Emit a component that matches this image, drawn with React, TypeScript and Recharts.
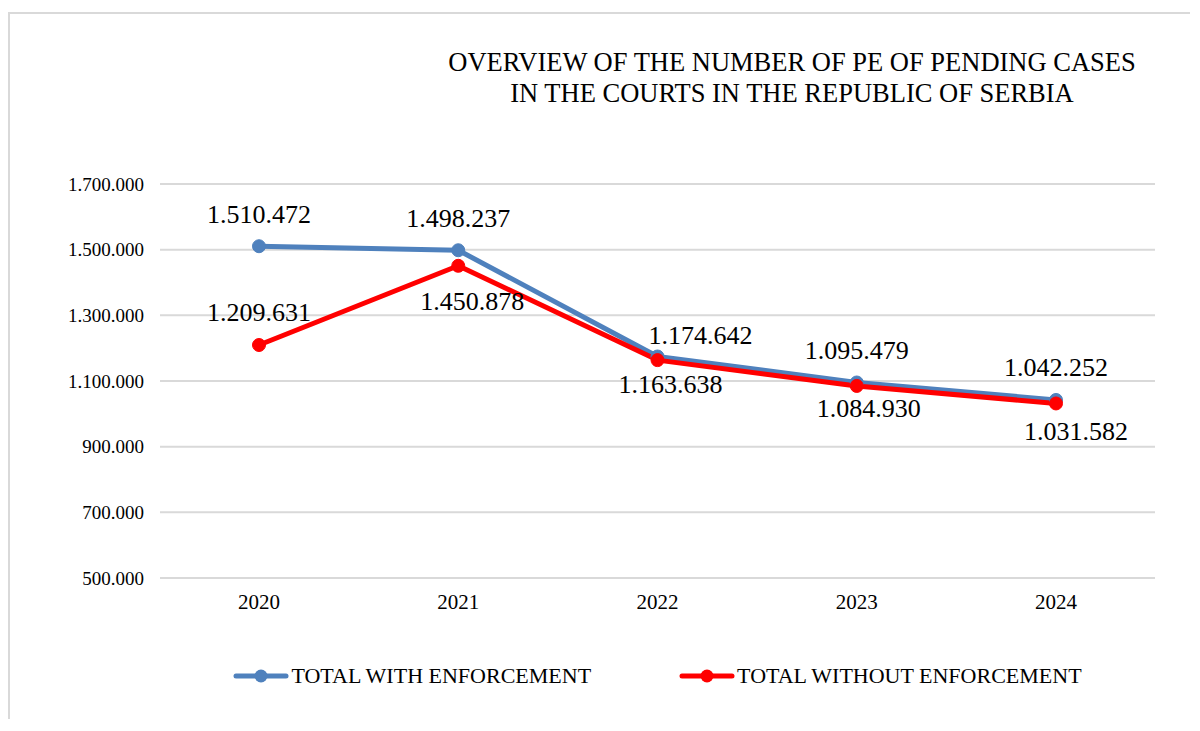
import { LineChart, Line, XAxis, YAxis, CartesianGrid, LabelList } from 'recharts';

const years = ['2020', '2021', '2022', '2023', '2024'];
const withEnforcement = [1510472, 1498237, 1174642, 1095479, 1042252];
const withoutEnforcement = [1209631, 1450878, 1163638, 1084930, 1031582];
const yTicks = [500000, 700000, 900000, 1100000, 1300000, 1500000, 1700000];
const titleLines = ['OVERVIEW OF THE NUMBER OF PE OF PENDING CASES', 'IN THE COURTS IN THE REPUBLIC OF SERBIA'];
const seriesNames = ['TOTAL WITH ENFORCEMENT', 'TOTAL WITHOUT ENFORCEMENT'];

const BLUE = '#4f81bd';
const RED = '#ff0000';
const FONT = 'Liberation Serif';

// label nudges (px) relative to each point, as placed in the original
const blueLabelNudge = [[0, -32], [0, -32], [43, -21], [0, -32], [0, -33]];
const redLabelNudge = [[0, -33], [14, 35], [13, 24], [12, 22], [20, 28]];

const data = years.map((year, i) => ({
  year,
  withEnf: withEnforcement[i],
  withoutEnf: withoutEnforcement[i],
}));

const fmt = (v: number) => String(v).replace(/\B(?=(\d{3})+(?!\d))/g, '.');

const makeLabel = (nudge: number[][]) => (props: any) => {
  const { x, y, value, index } = props;
  const [dx, dy] = nudge[index] || [0, -30];
  return (
    <text
      key={index}
      x={Number(x) + dx}
      y={Number(y) + dy + 9}
      textAnchor="middle"
      fontFamily={FONT}
      fontSize={26}
      fill="#000"
      style={{ fontFamily: FONT }}
    >
      {fmt(Number(value))}
    </text>
  );
};

function LegendIcon({ color }: { color: string }) {
  return (
    <svg width={56} height={24}>
      <line x1={3} y1={12} x2={53} y2={12} stroke={color} strokeWidth={5} strokeLinecap="round" />
      <circle cx={28} cy={12} r={6.5} fill={color} />
    </svg>
  );
}

export default function App() {
  const colors = [BLUE, RED];
  return (
    <div
      style={{
        position: 'relative',
        width: 1180,
        height: 705,
        marginTop: 4,
        borderTop: '2px solid #d9d9d9',
        borderLeft: '2px solid #d9d9d9',
        fontFamily: FONT,
        background: '#fff',
        overflow: 'hidden',
      }}
    >
      <div
        style={{
          position: 'absolute',
          left: 382,
          top: 33,
          width: 800,
          textAlign: 'center',
          fontSize: 26.5,
          lineHeight: '31px',
          color: '#000',
        }}
      >
        {titleLines.map((t) => (
          <div key={t}>{t}</div>
        ))}
      </div>

      <LineChart
        width={1180}
        height={705}
        data={data}
        margin={{ top: 170, right: 35, bottom: 101, left: 70 }}
        style={{ fontFamily: FONT }}
      >
        <CartesianGrid vertical={false} stroke="#d9d9d9" strokeWidth={2} />
        <XAxis
          dataKey="year"
          axisLine={false}
          tickLine={false}
          tickSize={0}
          tickMargin={16}
          height={40}
          padding={{ left: 99, right: 99 }}
          tick={{ fontSize: 21, fontFamily: FONT, fill: '#000' }}
        />
        <YAxis
          domain={[500000, 1700000]}
          ticks={yTicks}
          tickFormatter={fmt}
          axisLine={false}
          tickLine={false}
          tickSize={0}
          tickMargin={16}
          width={80}
          tick={{ fontSize: 19, fontFamily: FONT, fill: '#000' }}
        />
        <Line
          dataKey="withEnf"
          name={seriesNames[0]}
          stroke={BLUE}
          strokeWidth={5}
          strokeLinejoin="round"
          dot={{ r: 6.5, fill: BLUE, stroke: BLUE, strokeWidth: 1 }}
          isAnimationActive={false}
        >
          <LabelList dataKey="withEnf" content={makeLabel(blueLabelNudge)} />
        </Line>
        <Line
          dataKey="withoutEnf"
          name={seriesNames[1]}
          stroke={RED}
          strokeWidth={5}
          strokeLinejoin="round"
          dot={{ r: 6.5, fill: RED, stroke: RED, strokeWidth: 1 }}
          isAnimationActive={false}
        >
          <LabelList dataKey="withoutEnf" content={makeLabel(redLabelNudge)} />
        </Line>
      </LineChart>

      <div
        style={{
          position: 'absolute',
          left: 150,
          top: 650,
          width: 995,
          height: 24,
          display: 'flex',
          justifyContent: 'center',
          alignItems: 'center',
          gap: 88,
          fontSize: 22,
          color: '#000',
        }}
      >
        {seriesNames.map((name, i) => (
          <div key={name} style={{ display: 'flex', alignItems: 'center' }}>
            <LegendIcon color={colors[i]} />
            <span style={{ marginLeft: 2, lineHeight: '24px' }}>{name}</span>
          </div>
        ))}
      </div>
    </div>
  );
}
